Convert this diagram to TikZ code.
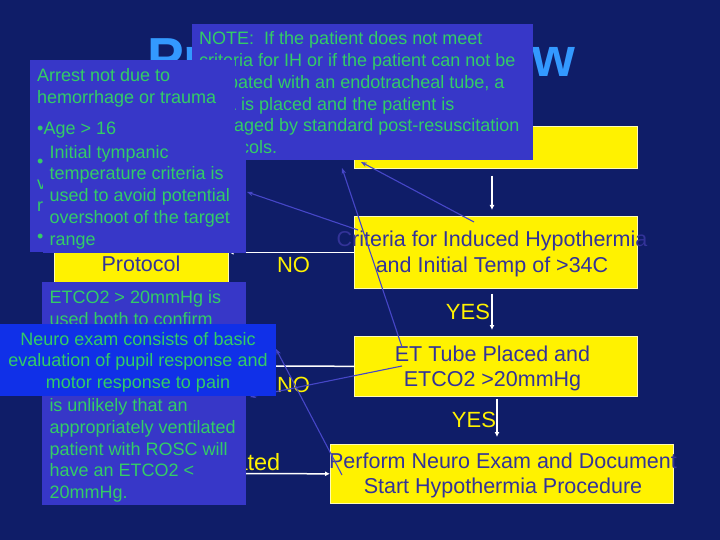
\documentclass[tikz,border=0pt]{standalone}
\usepackage{fontspec}
\setmainfont{Liberation Sans}
\usetikzlibrary{arrows.meta}
\definecolor{bg}{HTML}{0F1D68}
\definecolor{callout}{HTML}{3737C8}
\definecolor{neurofill}{HTML}{1030E8}
\definecolor{greentxt}{HTML}{33CC66}
\definecolor{boxtxt}{HTML}{333399}
\definecolor{titleblue}{HTML}{3399FF}
\definecolor{pointer}{HTML}{4646C8}
\begin{document}
\begin{tikzpicture}[x=1pt,y=-1pt,
  ybox/.style={draw=white!70!yellow, line width=0.6pt, fill=yellow, inner sep=0pt, anchor=north west},
  boxtext/.style={text=boxtxt, font=\fontsize{21.5}{25.5}\selectfont, align=center, inner sep=0pt, anchor=base},
  flowlbl/.style={text=yellow, font=\fontsize{22}{26}\selectfont, inner sep=0pt},
  flowarrow/.style={draw=white, line width=1.5pt, -{Latex[length=5pt,width=5pt]}},
  callbox/.style={fill=callout, draw=none, inner sep=0pt, anchor=north west},
  calltext/.style={text=greentxt, font=\fontsize{18}{21.7}\selectfont, align=left, inner sep=0pt, anchor=base west},
  ptr/.style={draw=pointer, line width=1.1pt, -{Stealth[length=6pt,width=4.5pt]}},
]
\useasboundingbox (0,0) rectangle (720,540);
\fill[bg] (0,0) rectangle (720,540);

% title
\node[font=\fontsize{55}{60}\selectfont\bfseries, text=titleblue, anchor=base, inner sep=0pt] (title) at (361,77) {Protocol Review};

% flowchart boxes
\node[ybox, minimum width=283pt, minimum height=42pt] (top) at (354,126) {};
\node[ybox, minimum width=283pt, minimum height=72pt] (crit) at (354,216) {};
\node[ybox, minimum width=283pt, minimum height=60pt] (et) at (354,336) {};
\node[ybox, minimum width=343pt, minimum height=59pt] (perf) at (330,444) {};
\node[ybox, minimum width=174pt, minimum height=92pt] (proto) at (54,190) {};

% (multi-line nodes: base anchor = baseline of the last line)
\node[boxtext] (critT) at (492,272.5) {Criteria for Induced Hypothermia\\and Initial Temp of >34C};
\node[boxtext] (etT) at (492.5,386.5) {ET Tube Placed and\\ETCO2 >20mmHg};
\node[boxtext] (perfT) at (503,493.5) {Perform Neuro Exam and Document\\Start Hypothermia Procedure};
\node[boxtext] (protoT) at (141,271.7) {Protocol};

% flow arrows
\coordinate (ax1) at (492,0);
\coordinate (ax3) at (497,0);
\draw[flowarrow, shorten <=7pt, shorten >=6pt] (top.south -| ax1) -- (crit.north -| ax1);
\draw[flowarrow, shorten <=5pt, shorten >=6pt] (crit.south -| ax1) -- (et.north -| ax1);
\draw[flowarrow, shorten <=2pt, shorten >=7pt] (et.south -| ax3) -- (perf.north -| ax3);
\node[flowlbl] (yes1) at (468,312) {YES};
\node[flowlbl] (yes2) at (474,420) {YES};
\node[flowlbl] (no1) at (293.5,265) {NO};
\node[flowlbl] (no2) at (293.5,385) {NO};

\draw[flowarrow] (crit.west) -- (proto.east |- crit.west);
\coordinate (etno) at (240,366);
\draw[flowarrow] (et.west) -- (etno);
\node[flowlbl, font=\fontsize{23.5}{26}\selectfont, anchor=base east] (nottxt) at (280.5,470) {Not Intubated};
\coordinate (ntc) at (200,473.5);
\draw[flowarrow] (ntc) -- (perf.west);

% callout box reference points (for pointers)
\coordinate (noteSW) at (192,160);
\coordinate (b2NE) at (246,140);
\coordinate (etcoNE) at (246,282);
\coordinate (neuroNE) at (276,324);

% pointer lines
\draw[ptr] ([shift={(120,6)}]crit.north west) -- ([shift={(169,2)}]noteSW);
\draw[ptr] ([shift={(4,14)}]crit.north west) -- ([shift={(1,52)}]b2NE);
\draw[ptr] ([shift={(48,11)}]et.north west) -- ([shift={(150,8)}]noteSW);
\draw[ptr] ([shift={(48,30)}]et.north west) -- ([shift={(4,115)}]etcoNE);
\draw[ptr] ([shift={(12,31)}]perf.north west) -- ([shift={(0,25)}]neuroNE);

% callouts
\node[callbox, minimum width=341pt, minimum height=136pt] (note) at (192,24) {};
\node[calltext] (noteT) at (199,153.5) {NOTE:\ \ If the patient does not meet\\criteria for IH or if the patient can not be\\intubated with an endotracheal tube, a\\LMA is placed and the patient is\\managed by standard post-resuscitation\\protocols.};

\node[callbox, minimum width=205pt, minimum height=192pt] (arrest) at (30,60) {};
\node[calltext] (arrestT) at (37,243) {Arrest not due to\\hemorrhage or trauma\\[9.9pt]\textbullet Age > 16\\[11.3pt]\textbullet\ Initial temp\\via tympanic\\reading\\[9.9pt]\textbullet\ ROSC};

\node[callbox, minimum width=203pt, minimum height=113pt] (b2) at (43,140) {};
\node[calltext] (b2T) at (49.5,245.1) {Initial tympanic\\temperature criteria is\\used to avoid potential\\overshoot of the target\\range};

\node[callbox, minimum width=204pt, minimum height=223pt] (etco) at (42,282) {};
\node[calltext] (etcoT) at (49.3,498.6) {ETCO2 > 20mmHg is\\used both to confirm\\placement of the tube\\and ventilation. It\\is\\is unlikely that an\\appropriately ventilated\\patient with ROSC will\\have an ETCO2 <\\20mmHg.};

\node[callbox, fill=neurofill, minimum width=276pt, minimum height=72pt] (neuro) at (0,324) {};
\node[calltext, align=center, anchor=base] (neuroT) at (138,388.4) {Neuro exam consists of basic\\evaluation of pupil response and\\motor response to pain};
\end{tikzpicture}
\end{document}
